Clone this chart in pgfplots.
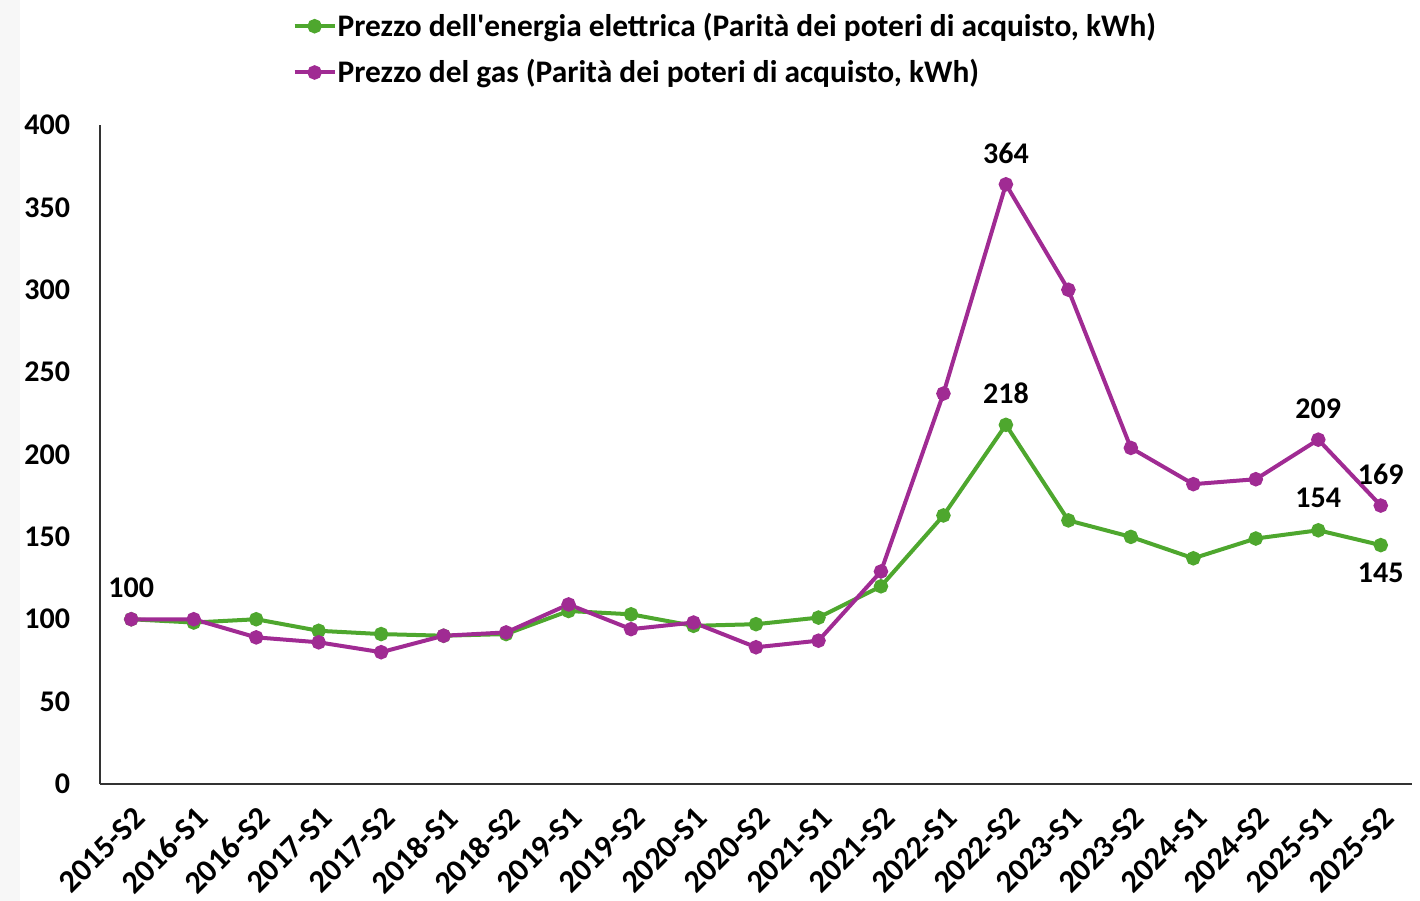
\documentclass[border=0pt]{standalone}
\usepackage{fontspec}
\setmainfont{Carlito}
\usepackage{pgfplots}
\pgfplotsset{compat=1.18}
\definecolor{elec}{HTML}{4EA72E}
\definecolor{gas}{HTML}{A02B93}

\begin{document}
\begin{tikzpicture}[font=\fontsize{15bp}{18bp}\selectfont\bfseries]
\path[use as bounding box] (-50bp,-58.5bp) rectangle (660bp,392bp);
\fill[black!3] (-50bp,-58.5bp) rectangle (-40bp,392bp);
\begin{axis}[
  at={(0,0)}, anchor=south west,
  scale only axis, width=656bp, height=329.5bp,
  xmin=-0.5, xmax=20.5, ymin=0, ymax=400,
  xtick={0,...,20},
  xticklabels={2015-S2,2016-S1,2016-S2,2017-S1,2017-S2,2018-S1,2018-S2,2019-S1,2019-S2,2020-S1,2020-S2,2021-S1,2021-S2,2022-S1,2022-S2,2023-S1,2023-S2,2024-S1,2024-S2,2025-S1,2025-S2},
  x tick label style={rotate=45, anchor=north east, inner sep=2bp, xshift=-5bp, yshift=-5.5bp,
    font=\fontsize{16bp}{18bp}\selectfont\bfseries},
  ytick={0,50,...,400},
  yticklabel style={xshift=-11.5bp},
  axis lines*=left,
  axis line style={black!80, line width=1.1bp},
  major tick length=0pt,
  /pgf/number format/assume math mode=true,
  legend style={at={(0.1465,1.172)}, anchor=north west, draw=none, fill=none,
    row sep=9bp, inner sep=0pt, nodes={inner sep=0.5bp},
    font=\fontsize{15.7bp}{18bp}\selectfont\bfseries},
  legend cell align=left,
  legend image code/.code={\draw[mark repeat=2,mark phase=2,#1] plot coordinates {(0bp,0bp)(10bp,0bp)(20bp,0bp)};},
]
\addplot[elec, line width=2bp, mark=*, mark size=2.6bp] coordinates {
(0,100)(1,98)(2,100)(3,93)(4,91)(5,90)(6,91)(7,105)(8,103)(9,96)(10,97)
(11,101)(12,120)(13,163)(14,218)(15,160)(16,150)(17,137)(18,149)(19,154)(20,145)};
\addlegendentry{Prezzo dell\textquotesingle energia elettrica (Parità dei poteri di acquisto, kWh)}
\addplot[gas, line width=2bp, mark=*, mark size=2.6bp] coordinates {
(0,100)(1,100)(2,89)(3,86)(4,80)(5,90)(6,92)(7,109)(8,94)(9,98)(10,83)
(11,87)(12,129)(13,237)(14,364)(15,300)(16,204)(17,182)(18,185)(19,209)(20,169)};
\addlegendentry{Prezzo del gas (Parità dei poteri di acquisto, kWh)}
\node at (axis cs:0,100) [yshift=15.5bp] {100};
\node at (axis cs:14,364) [yshift=15.5bp] {364};
\node at (axis cs:14,218) [yshift=16bp] {218};
\node at (axis cs:19,209) [yshift=15.5bp] {209};
\node at (axis cs:20,169) [yshift=15.5bp] {169};
\node at (axis cs:19,154) [yshift=16bp] {154};
\node at (axis cs:20,145) [yshift=-14bp] {145};
\end{axis}
\end{tikzpicture}
\end{document}
